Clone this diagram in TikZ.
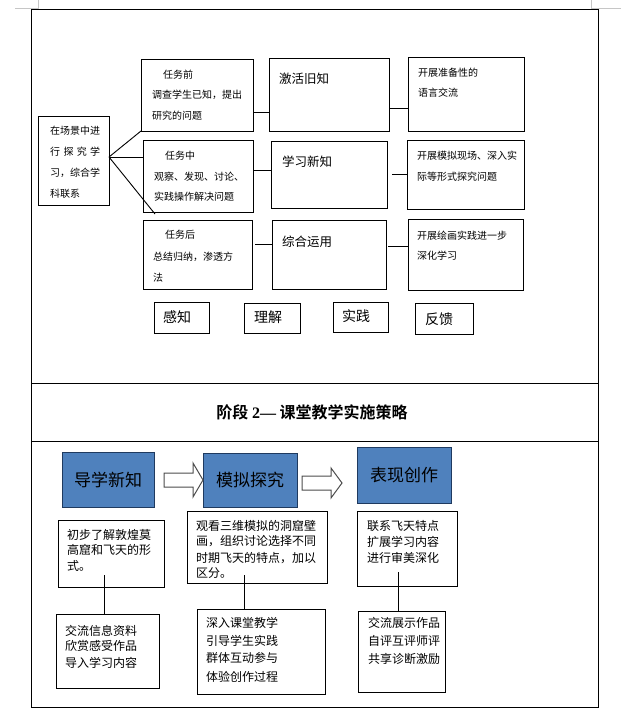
\documentclass[tikz,border=0pt]{standalone}
\usepackage{fontspec}
\setmainfont{Noto Sans CJK SC}[BoldFont={Noto Sans CJK SC Bold}]
\newfontfamily\tnr{Liberation Serif}
\usetikzlibrary{calc}
\definecolor{blueface}{HTML}{4F81BD}
\definecolor{blueedge}{HTML}{1F3A5F}
\begin{document}
\begin{tikzpicture}[x=1pt,y=-1pt,
  box/.style={draw, line width=0.9pt, inner sep=0pt, outer sep=0pt, anchor=north west},
  bluebox/.style={box, fill=blueface, draw=blueedge, anchor=center, font=\fontsize{17}{20}\selectfont},
  sm/.style={anchor=west, inner sep=0pt, font=\fontsize{10}{12}\selectfont},
  md/.style={anchor=west, inner sep=0pt, font=\fontsize{12.5}{14}\selectfont},
  lg/.style={anchor=west, inner sep=0pt, font=\fontsize{14}{16}\selectfont},
  bt/.style={anchor=west, inner sep=0pt, font=\fontsize{12}{14}\selectfont},
  conn/.style={line width=0.9pt},
  blockarrow/.style={draw=gray!60!black, fill=white, line width=1pt, line join=miter},
  cornermark/.style={draw=gray!45, line width=0.6pt}
]
\useasboundingbox (0,0) rectangle (621,708);
% page corner marks
\draw[cornermark] (15,8) -- (38,8) -- (38,0);
\draw[cornermark] (621,8) -- (591,8) -- (591,0);
% outer frame
\draw[line width=1pt] (31,10) rectangle (598,707);
\draw[line width=1pt] (31,383) -- (598,383);
\draw[line width=1pt] (31,441) -- (598,441);

% ---------- top section ----------
\node[box, minimum width=71pt, minimum height=89pt] (L) at (38,116) {};
\node[sm] (Lt1) at (50,131) {在场景中进};
\node[sm] (Lt2) at (50,152) {\makebox[50pt][s]{行\hfill 探\hfill 究\hfill 学}};
\node[sm] (Lt3) at (50,173) {习，综合学};
\node[sm] (Lt4) at (50,194) {科联系};

\node[box, minimum width=112pt, minimum height=72pt] (A) at (141,59) {};
\node[sm] (At1) at (163,75) {任务前};
\node[sm] (At2) at (152,95) {调查学生已知，提出};
\node[sm] (At3) at (152,116) {研究的问题};

\node[box, minimum width=110pt, minimum height=72pt] (B) at (143,140) {};
\node[sm] (Bt1) at (165,156) {任务中};
\node[sm] (Bt2) at (154,177) {观察、发现、讨论、};
\node[sm] (Bt3) at (154,197) {实践操作解决问题};

\node[box, minimum width=109pt, minimum height=69pt] (C) at (143,220) {};
\node[sm] (Ct1) at (165,235) {任务后};
\node[sm] (Ct2) at (153,257) {总结归纳，渗透方};
\node[sm] (Ct3) at (153,278) {法};

\node[box, minimum width=120pt, minimum height=73pt] (D1) at (269,58) {};
\node[md] (D1t) at (279,79) {激活旧知};
\node[box, minimum width=116pt, minimum height=67pt] (D2) at (271,141) {};
\node[md] (D2t) at (282,162) {学习新知};
\node[box, minimum width=114pt, minimum height=69pt] (D3) at (272,220) {};
\node[md] (D3t) at (282,242) {综合运用};

\node[box, minimum width=116pt, minimum height=74pt] (E1) at (408,57) {};
\node[sm] (E1t1) at (418,73) {开展准备性的};
\node[sm] (E1t2) at (418,93) {语言交流};
\node[box, minimum width=117pt, minimum height=69pt] (E2) at (407,140) {};
\node[sm] (E2t1) at (417,156) {开展模拟现场、深入实};
\node[sm] (E2t2) at (417,177) {际等形式探究问题};
\node[box, minimum width=115pt, minimum height=71pt] (E3) at (408,219) {};
\node[sm] (E3t1) at (417,236) {开展绘画实践进一步};
\node[sm] (E3t2) at (417,256) {深化学习};

\node[box, minimum width=55pt, minimum height=31pt] (K1) at (154,302) {};
\node[lg] (K1t) at (163,317) {感知};
\node[box, minimum width=56pt, minimum height=30pt] (K2) at (244,303) {};
\node[lg] (K2t) at (254,317) {理解};
\node[box, minimum width=55pt, minimum height=30pt] (K3) at (333,302) {};
\node[lg] (K3t) at (342,316) {实践};
\node[box, minimum width=58pt, minimum height=31pt] (K4) at (415,303) {};
\node[lg] (K4t) at (425,319) {反馈};

% connectors top
\coordinate (Lo) at (109,157);
\coordinate (Lend) at (155,214);
\draw[conn] (Lo) -- (A.south west);
\draw[conn] (Lo) -- (Lo -| B.west);
\draw[conn] (Lo) -- (Lend);
\draw[conn] ([yshift=-17pt]A.east) -- ([yshift=-17pt]A.east -| D1.west);
\draw[conn] ([yshift=-13.5pt]D1.east) -- ([yshift=-13.5pt]D1.east -| E1.west);
\draw[conn] ([yshift=6pt]B.east) -- ([yshift=6pt]B.east -| D2.west);
\draw[conn] ([xshift=5pt,yshift=0pt]D2.east) -- (D2.east -| E2.west);
\draw[conn] ([xshift=3pt,yshift=10.5pt]C.east) -- ([yshift=10.5pt]C.east -| D3.west);
\draw[conn] ([xshift=2pt,yshift=8.5pt]D3.east) -- ([yshift=8.5pt]D3.east -| E3.west);

% ---------- title ----------
\node[font=\fontsize{16}{18}\selectfont\bfseries, inner sep=0pt] (title) at (312,412) {阶段 {\tnr\bfseries 2—}\ 课堂教学实施策略};

% ---------- bottom section ----------
\node[bluebox, minimum width=92pt, minimum height=55pt] (P1) at (108,479.5) {导学新知};
\node[bluebox, minimum width=94pt, minimum height=54pt] (P2) at (250,480) {模拟探究};
\node[bluebox, minimum width=94pt, minimum height=56pt] (P3) at (404,475) {表现创作};

\draw[blockarrow] (164,473) -- (193,473) -- (193,463) -- (203,480) -- (193,497) -- (193,487) -- (164,487) -- cycle;
\draw[blockarrow] (302,476) -- (331,476) -- (331,468) -- (342,483) -- (331,498) -- (331,490) -- (302,490) -- cycle;

\node[box, minimum width=106pt, minimum height=67pt] (T1) at (58,520) {};
\node[bt] (T1t1) at (67,535) {初步了解敦煌莫};
\node[bt] (T1t2) at (67,550) {高窟和飞天的形};
\node[bt] (T1t3) at (67,566) {式。};

\node[box, minimum width=140pt, minimum height=72pt] (T2) at (187,511) {};
\node[bt] (T2t1) at (196,526) {观看三维模拟的洞窟壁};
\node[bt] (T2t2) at (196,541) {画，组织讨论选择不同};
\node[bt] (T2t3) at (196,558) {时期飞天的特点，加以};
\node[bt] (T2t4) at (196,573) {区分。};

\node[box, minimum width=100pt, minimum height=75pt] (T3) at (357,511) {};
\node[bt] (T3t1) at (367,526) {联系飞天特点};
\node[bt] (T3t2) at (367,542) {扩展学习内容};
\node[bt] (T3t3) at (367,558) {进行审美深化};

\node[box, minimum width=103pt, minimum height=74pt] (Q1) at (56,614) {};
\node[bt] (Q1t1) at (65,631) {交流信息资料};
\node[bt] (Q1t2) at (65,646) {欣赏感受作品};
\node[bt] (Q1t3) at (65,663) {导入学习内容};

\node[box, minimum width=128pt, minimum height=85pt] (Q2) at (197,609) {};
\node[bt] (Q2t1) at (206,623) {深入课堂教学};
\node[bt] (Q2t2) at (206,641) {引导学生实践};
\node[bt] (Q2t3) at (206,658) {群体互动参与};
\node[bt] (Q2t4) at (206,677) {体验创作过程};

\node[box, minimum width=87pt, minimum height=81pt] (Q3) at (358,611) {};
\node[bt] (Q3t1) at (368,623) {交流展示作品};
\node[bt] (Q3t2) at (368,641) {自评互评师评};
\node[bt] (Q3t3) at (368,659) {共享诊断激励};

\coordinate (v1) at (104,575);
\coordinate (v2) at (244,575);
\coordinate (v3) at (398,572);
\draw[conn] (v1) -- (v1 |- Q1.north);
\draw[conn] (v2) -- (v2 |- Q2.north);
\draw[conn] (v3) -- (v3 |- Q3.north);
\end{tikzpicture}
\end{document}
